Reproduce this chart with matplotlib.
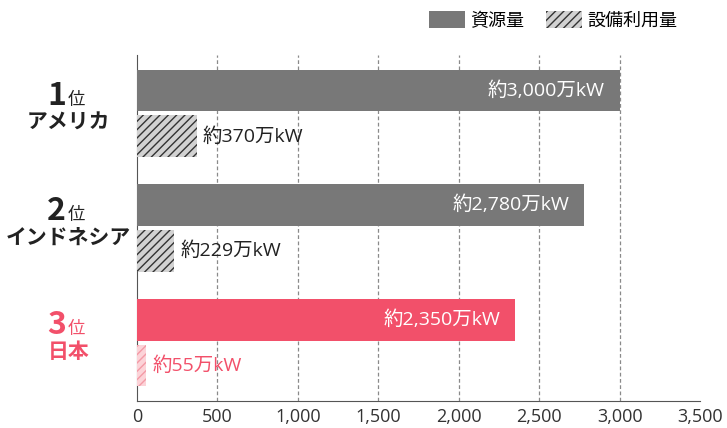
import matplotlib.pyplot as plt
from matplotlib.patches import Patch

plt.rcParams['font.family'] = ['Noto Sans CJK JP', 'DejaVu Sans']
plt.rcParams['hatch.linewidth'] = 1.0

# data
ranks = ['1', '2', '3']
countries = ['アメリカ', 'インドネシア', '日本']
resource = [3000, 2780, 2350]
used = [370, 229, 55]
resource_labels = ['約3,000万kW', '約2,780万kW', '約2,350万kW']
used_labels = ['約370万kW', '約229万kW', '約55万kW']
xticks = [0, 500, 1000, 1500, 2000, 2500, 3000, 3500]

gray = '#787878'
pink = '#f2506a'
dark = '#222222'
num_font = ['Open Sans', 'Noto Sans CJK JP']

fig = plt.figure(figsize=(7.27, 4.28), dpi=100)
ax = fig.add_axes([137/727, 27/428, 563/727, 346/428])

off = 0.2
h = 0.365
for i in range(len(countries)):
    is_jp = (i == 2)
    c_res = pink if is_jp else gray
    ax.barh(i - off, resource[i], height=h, color=c_res, zorder=3)
    if is_jp:
        ax.barh(i + off, used[i], height=h, color='#fcd3d8', edgecolor='#f39aa6',
                hatch='////', linewidth=0, zorder=3)
    else:
        ax.barh(i + off, used[i], height=h, color='#d2d2d2', edgecolor='#333333',
                hatch='////', linewidth=0, zorder=3)

    ax.annotate(resource_labels[i], xy=(resource[i], i - off), xytext=(-10.5, 0),
                textcoords='offset points', ha='right', va='center',
                color='white', fontsize=14, family=num_font, zorder=4)
    ax.annotate(used_labels[i], xy=(used[i], i + off), xytext=(4.5, 0),
                textcoords='offset points', ha='left', va='center',
                color=pink if is_jp else dark, fontsize=14, family=num_font, zorder=4)

    lc = pink if is_jp else dark
    ax.annotate(ranks[i], xy=(0, i), xycoords=('axes fraction', 'data'),
                xytext=(-51, 6), textcoords='offset points', ha='right',
                va='baseline', fontsize=23, fontweight='bold', color=lc)
    ax.annotate('位', xy=(0, i), xycoords=('axes fraction', 'data'),
                xytext=(-50, 6), textcoords='offset points', ha='left',
                va='baseline', fontsize=12.5, color=lc)
    ax.annotate(countries[i], xy=(0, i), xycoords=('axes fraction', 'data'),
                xytext=(-49.5, -6.5), textcoords='offset points', ha='center',
                va='center', fontsize=15, fontweight='bold', color=lc)

ax.set_xlim(0, 3500)
ax.set_ylim(2.51, -0.51)
ax.set_xticks(xticks)
ax.set_xticklabels([f'{v:,}' for v in xticks], family=num_font)
ax.set_yticks([])
ax.tick_params(axis='x', length=0, pad=5, labelsize=13, labelcolor='#333333')
for v in xticks[1:-1]:
    ax.axvline(v, color='#8a8a8a', linestyle=(0, (3, 2)), linewidth=0.9, zorder=1)
for s in ['top', 'right']:
    ax.spines[s].set_visible(False)
ax.spines['left'].set_color('#555555')
ax.spines['bottom'].set_color('#555555')

handles = [Patch(facecolor=gray, edgecolor=gray, linewidth=0),
           Patch(facecolor='#d2d2d2', edgecolor='#333333', hatch='////', linewidth=0)]
fig.legend(handles, ['資源量', '設備利用量'], ncol=2, loc='upper left',
           bbox_to_anchor=(429/727, 1 - 11/428), frameon=False, borderpad=0,
           borderaxespad=0, fontsize=13, handlelength=2.0, handleheight=1.1,
           handletextpad=0.3, columnspacing=1.2)

fig.savefig('out.png', dpi=100)
